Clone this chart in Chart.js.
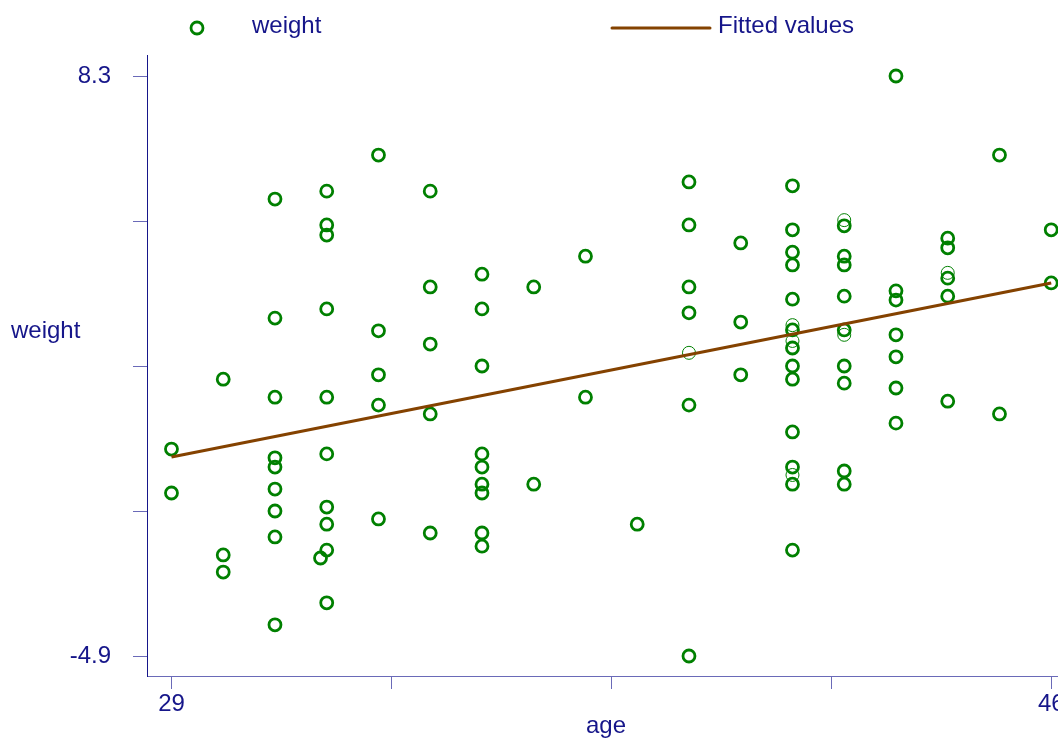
<!DOCTYPE html>
<html>
<head>
<meta charset="utf-8">
<title>weight vs age</title>
<script src="https://cdn.jsdelivr.net/npm/chart.js@4.4.1/dist/chart.umd.min.js"></script>
<style>
  html, body { margin: 0; padding: 0; background: #ffffff; overflow: hidden; }
  canvas { display: block; }
</style>
</head>
<body>
<canvas id="chart" width="1080" height="740"></canvas>
<script>
// Observations: age (years) and weight, one entry per respondent
const ages = [
  29, 29,
  30, 30, 30,
  31, 31, 31, 31, 31, 31, 31, 31, 31,
  31.88,
  32, 32, 32, 32, 32, 32, 32, 32, 32, 32,
  33, 33, 33, 33, 33,
  34, 34, 34, 34, 34,
  35, 35, 35, 35, 35, 35, 35, 35, 35,
  36, 36,
  37, 37,
  38,
  39, 39, 39, 39, 39, 39,
  40, 40, 40,
  41, 41, 41, 41, 41, 41, 41, 41, 41, 41, 41, 41, 41,
  42, 42, 42, 42, 42, 42, 42, 42, 42,
  43, 43, 43, 43, 43, 43, 43,
  44, 44, 44, 44, 44,
  45, 45,
  46, 46
];
const weights = [
  -0.19, -1.19,
  1.40, -2.60, -2.99,
  5.50, 2.79, 0.99, -0.39, -0.60, -1.10, -1.60, -2.19, -4.19,
  -2.67,
  5.68, 4.91, 4.68, 3.00, 0.99, -0.30, -1.51, -1.90, -2.49, -3.69,
  6.50, 2.50, 1.50, 0.81, -1.78,
  5.68, 3.50, 2.20, 0.61, -2.10,
  3.79, 3.00, 1.70, -0.30, -0.60, -0.99, -1.19, -2.10, -2.40,
  3.50, -0.99,
  4.20, 0.99,
  -1.90,
  5.89, 4.91, 3.50, 2.91, 0.81, -4.90,
  4.50, 2.70, 1.50,
  5.80, 4.80, 4.29, 4.00, 3.22, 2.52, 2.11, 1.70, 1.40, 0.20, -0.60, -0.99, -2.49,
  4.89, 4.20, 4.00, 3.29, 2.52, 1.70, 1.31, -0.69, -0.99,
  8.30, 3.41, 3.20, 2.41, 1.91, 1.20, 0.40,
  4.61, 4.39, 3.70, 3.29, 0.90,
  6.50, 0.61,
  4.80, 3.59
];

// Observations rendered with a light outline
const lightAges    = [39, 41, 41, 41, 42, 42, 44];
const lightWeights = [2.00, 2.63, 2.27, -0.78, 5.02, 2.41, 3.82];

// Linear fit of weight on age, evaluated at the ends of the age range
const fitAges    = [29, 46];
const fitWeights = [-0.37, 3.59];

// Axis ticks and the ones that carry a label
const xTicks = [29, 33.25, 37.5, 41.75, 46];
const xLabeled = [29, 46];
const yTicks = [-4.9, -1.6, 1.7, 5, 8.3];
const yLabeled = [-4.9, 8.3];

const NAVY = '#16168a';
const TICK = '#6a6ab8';
const GREEN = '#008000';
const BROWN = '#844200';
const FONT = '"Liberation Sans", Arial, Helvetica, sans-serif';

const toPoints = (xs, ys) => xs.map((x, i) => ({ x: x, y: ys[i] }));

// Legend across the top and the two axis titles
const decorations = {
  id: 'decorations',
  afterDraw(chart) {
    const ctx = chart.ctx;
    const ds = chart.data.datasets;
    ctx.save();
    ctx.font = '24px ' + FONT;
    ctx.fillStyle = NAVY;
    ctx.textAlign = 'left';
    ctx.textBaseline = 'alphabetic';

    // marker entry
    const pts = ds[1];
    ctx.beginPath();
    ctx.arc(197, 28, pts.pointRadius, 0, Math.PI * 2);
    ctx.lineWidth = pts.borderWidth;
    ctx.strokeStyle = pts.borderColor;
    ctx.stroke();
    ctx.fillText(pts.label, 252, 33);

    // line entry
    const fit = ds[0];
    ctx.beginPath();
    ctx.moveTo(612, 28);
    ctx.lineTo(710, 28);
    ctx.lineWidth = fit.borderWidth;
    ctx.strokeStyle = fit.borderColor;
    ctx.lineCap = 'round';
    ctx.stroke();
    ctx.fillText(fit.label, 718, 33);

    // y-axis title, set horizontally at the left
    ctx.fillText(chart.options.scales.y.title.text, 11, 338);

    // x-axis title, below the tick labels
    ctx.textAlign = 'center';
    ctx.fillText(chart.options.scales.x.title.text, 606, 733);
    ctx.restore();
  }
};

new Chart(document.getElementById('chart'), {
  type: 'scatter',
  data: {
    datasets: [
      {
        type: 'line',
        label: 'Fitted values',
        data: toPoints(fitAges, fitWeights),
        borderColor: BROWN,
        borderWidth: 3,
        pointRadius: 0,
        fill: false,
        tension: 0,
        order: 0
      },
      {
        label: 'weight',
        data: toPoints(ages, weights),
        pointStyle: 'circle',
        pointRadius: 6,
        borderWidth: 2.8,
        borderColor: GREEN,
        backgroundColor: 'rgba(0,0,0,0)',
        order: 1
      },
      {
        label: 'weight',
        data: toPoints(lightAges, lightWeights),
        pointStyle: 'circle',
        pointRadius: 6.5,
        borderWidth: 1,
        borderColor: GREEN,
        backgroundColor: 'rgba(0,0,0,0)',
        order: 2
      }
    ]
  },
  options: {
    responsive: false,
    animation: false,
    devicePixelRatio: 1,
    layout: { autoPadding: false, padding: { top: 55, left: 0, right: 0, bottom: 0 } },
    plugins: {
      legend: { display: false },
      tooltip: { enabled: false }
    },
    scales: {
      x: {
        type: 'linear',
        position: 'bottom',
        min: 28.527,
        max: 46.556,
        afterBuildTicks: (scale) => { scale.ticks = xTicks.map(v => ({ value: v })); },
        afterFit: (scale) => {
          scale.height = 64;
          scale.paddingLeft = 0;
          scale.paddingRight = 0;
        },
        border: { display: true, color: TICK, width: 1 },
        grid: { display: true, drawOnChartArea: false, drawTicks: true, tickLength: 13, tickColor: TICK, tickWidth: 1 },
        ticks: {
          autoSkip: false,
          maxRotation: 0,
          padding: 1,
          color: NAVY,
          font: { family: FONT, size: 24 },
          callback: (v) => xLabeled.includes(v) ? String(v) : ''
        },
        title: { display: false, text: 'age' }
      },
      y: {
        type: 'linear',
        position: 'left',
        min: -5.355,
        max: 8.778,
        afterBuildTicks: (scale) => { scale.ticks = yTicks.map(v => ({ value: v })); },
        afterFit: (scale) => {
          scale.width = 147;
          scale.paddingTop = 0;
          scale.paddingBottom = 0;
        },
        border: { display: true, color: NAVY, width: 1 },
        grid: { display: true, drawOnChartArea: false, drawTicks: true, tickLength: 14, tickColor: TICK, tickWidth: 1 },
        ticks: {
          autoSkip: false,
          padding: 22,
          color: NAVY,
          font: { family: FONT, size: 24 },
          callback: (v) => yLabeled.includes(v) ? String(v) : ''
        },
        title: { display: false, text: 'weight' }
      }
    }
  },
  plugins: [decorations]
});
</script>
</body>
</html>
